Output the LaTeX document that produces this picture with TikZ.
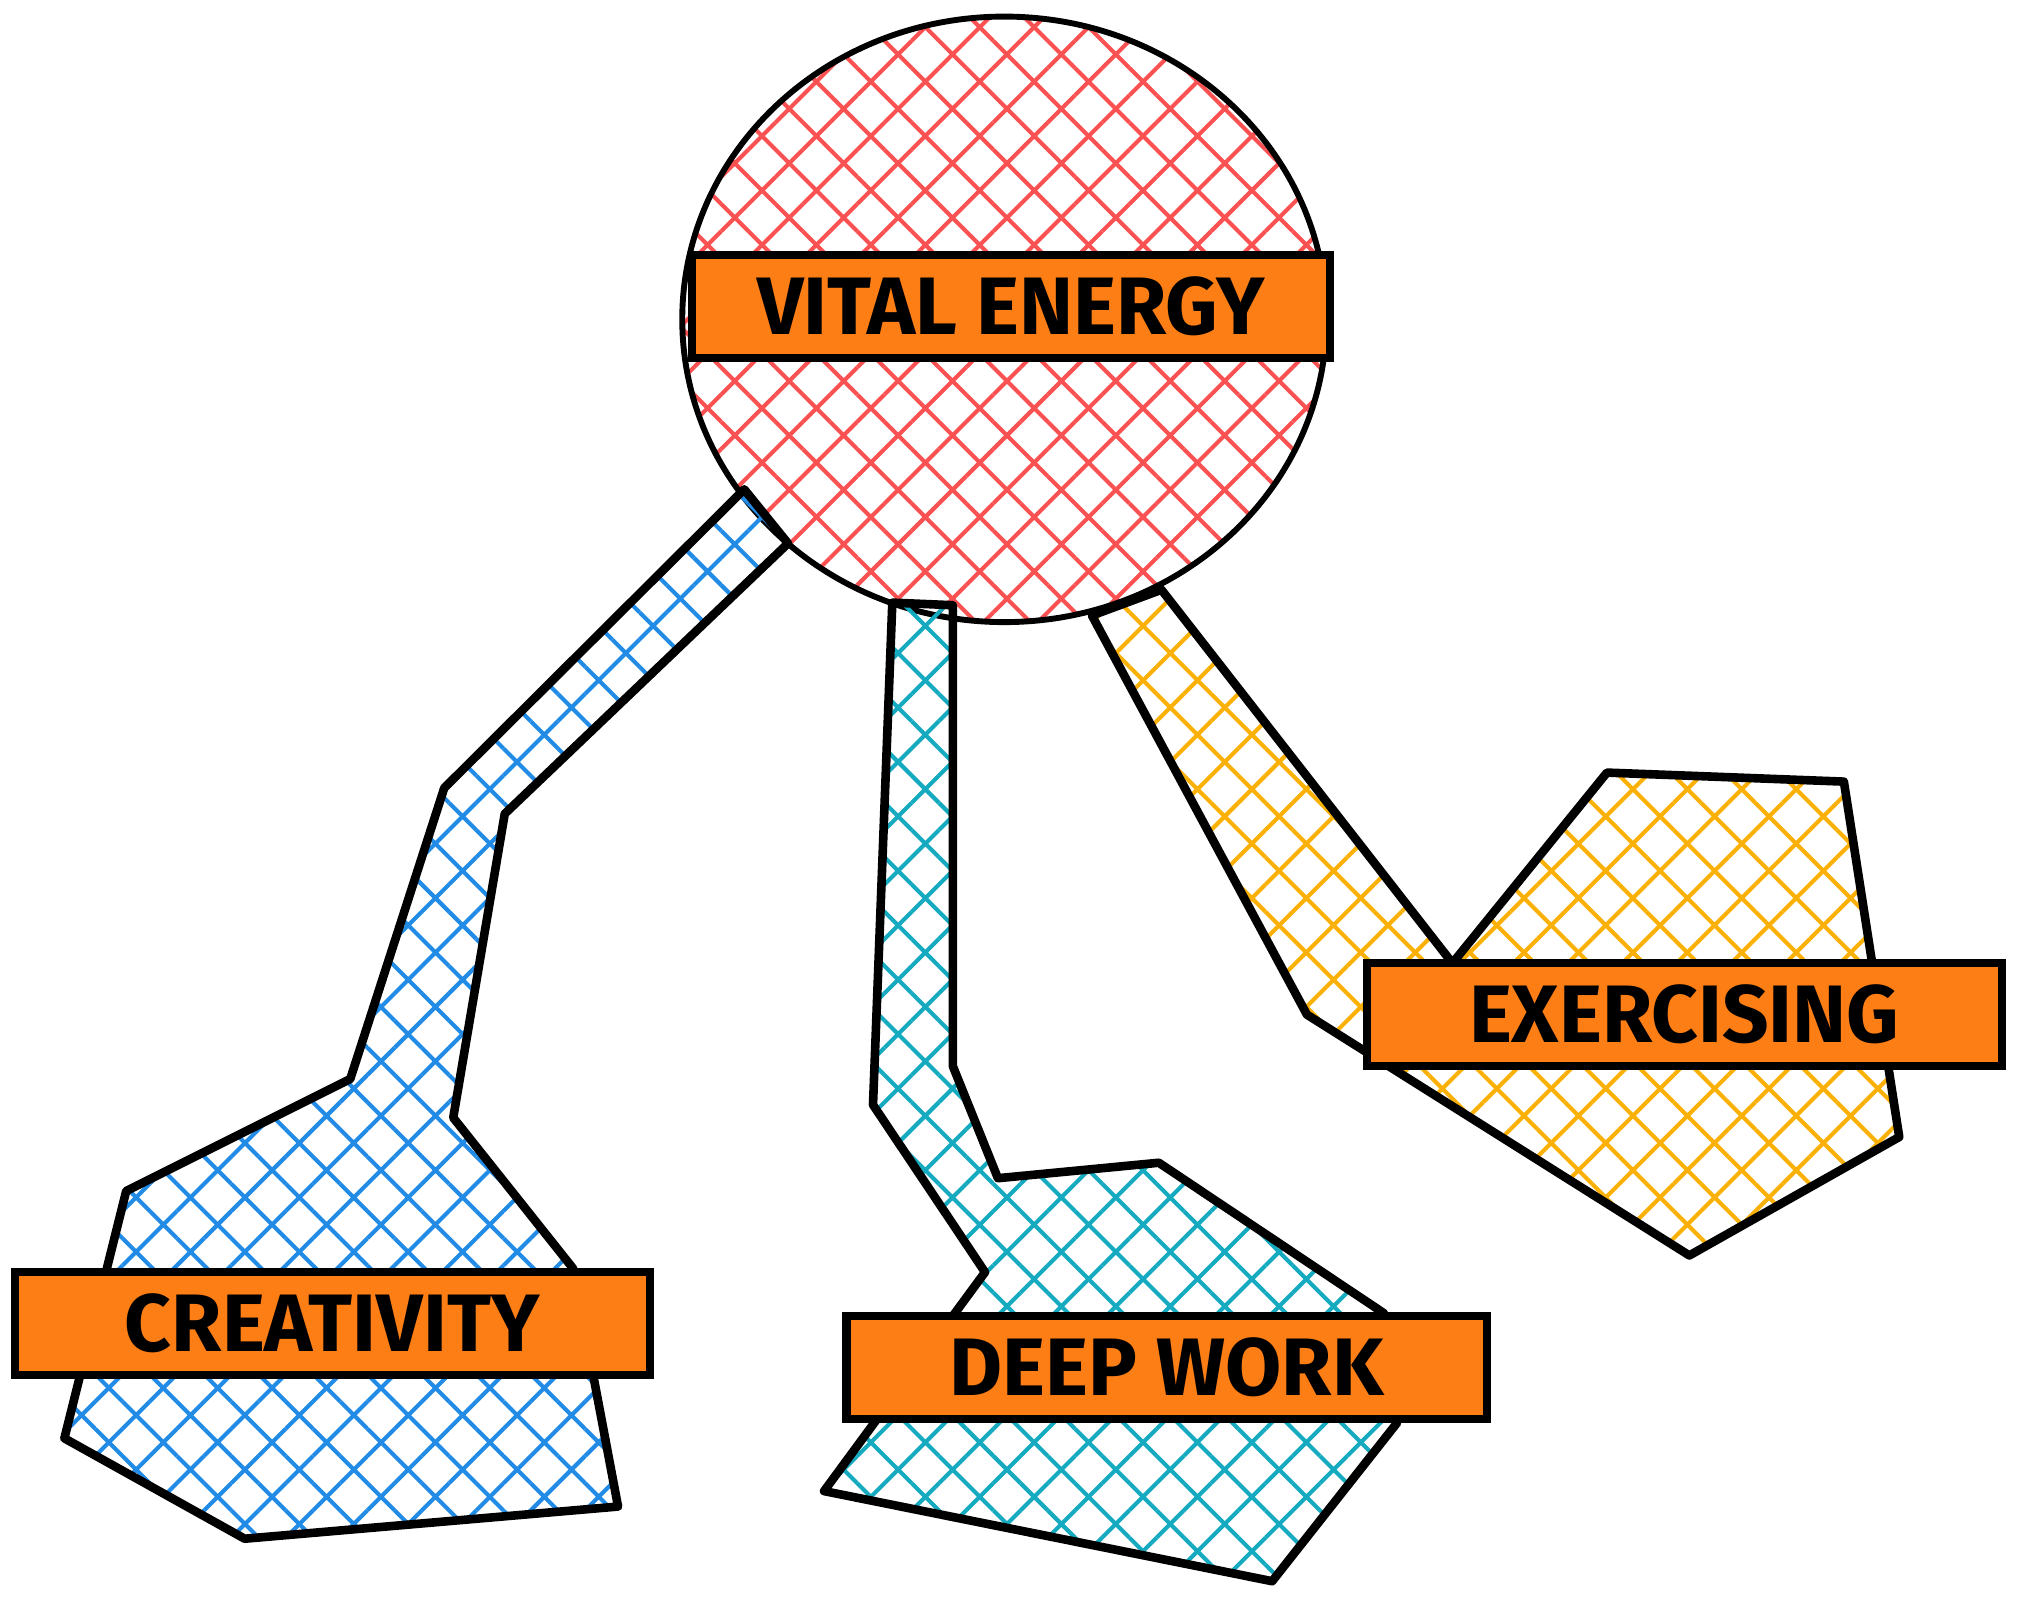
\documentclass[tikz,border=0pt]{standalone}
\usepackage{fontspec}
\setmainfont{Fira Sans}
\usetikzlibrary{shapes.geometric,patterns.meta}
\definecolor{hatchred}{HTML}{FA5252}
\definecolor{hatchblue}{HTML}{228BE6}
\definecolor{hatchteal}{HTML}{15AABF}
\definecolor{hatchyellow}{HTML}{FAB005}
\definecolor{tagorange}{HTML}{FD7E14}
\begin{document}
\begin{tikzpicture}[x=0.01cm, y=-0.01cm,
        outline/.style={draw=black, line width=1.9pt, line join=round},
        hatchfill/.style={pattern={Hatch[angle=45, distance=8.5pt, line width=0.9pt]}, pattern color=#1},
        tag/.style={rectangle, draw=black, line width=1.8pt, fill=tagorange, minimum width=4.93cm, minimum height=0.8cm, inner sep=0pt, font=\fontsize{18}{20}\selectfont\bfseries}]
            \useasboundingbox (0,0) rectangle (1568,1247);
            \node[ellipse, draw=black, line width=1.3pt, minimum width=5cm, minimum height=4.7cm, hatchfill=hatchred] (energy) at (780,248) {};
            \draw[outline, hatchfill=hatchblue] (578,380) -- (345,612) -- (272,838) -- (98,925) -- (50,1117) -- (190,1195) -- (480,1170) -- (445,985) -- (352,868) -- (392,632) -- (612,422) -- cycle;
            \draw[outline, hatchfill=hatchteal] (693,468) -- (678,858) -- (765,988) -- (640,1158) -- (988,1228) -- (1085,1105) -- (1075,1020) -- (900,903) -- (775,915) -- (740,828) -- (740,470) -- cycle;
            \draw[outline, hatchfill=hatchyellow] (848,478) -- (1015,788) -- (1312,975) -- (1475,883) -- (1432,607) -- (1248,600) -- (1128,748) -- (902,458) -- cycle;
            \node[tag, minimum width=4.95cm] (vital) at (785,238) {VITAL ENERGY};
            \node[tag] (creativity) at (258,1028) {CREATIVITY};
            \node[tag, minimum width=4.97cm] (deepwork) at (906,1062) {DEEP WORK};
            \node[tag] (exercising) at (1308,788) {EXERCISING};
        \end{tikzpicture}
\end{document}
